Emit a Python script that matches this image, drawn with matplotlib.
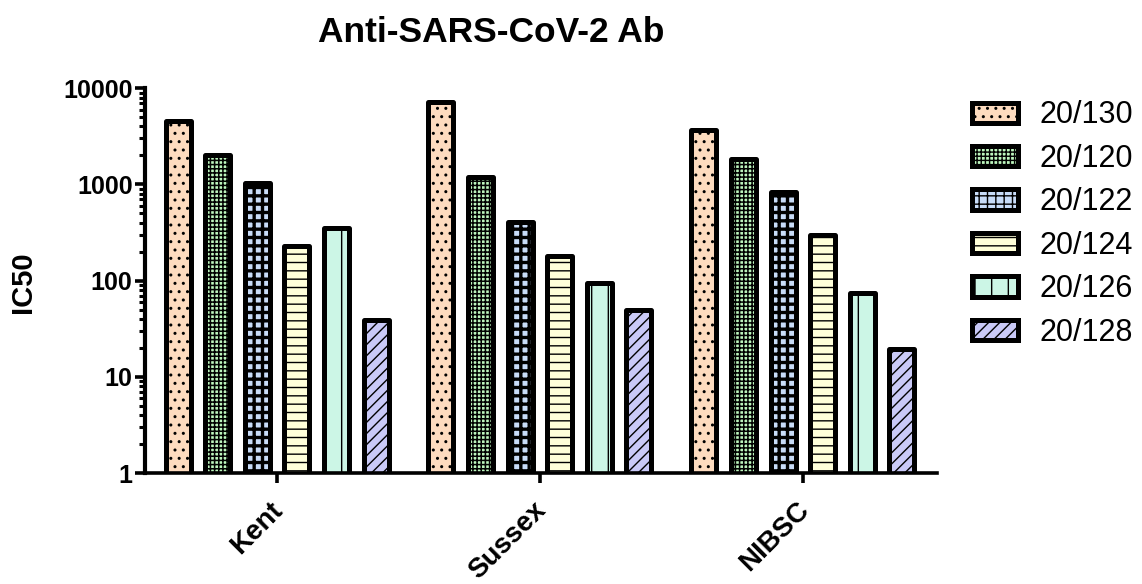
import matplotlib
matplotlib.use('Agg')
import matplotlib.pyplot as plt
from matplotlib.patches import Patch
from matplotlib.ticker import LogLocator, NullFormatter
import numpy as np

plt.rcParams['font.family'] = ['Liberation Sans', 'DejaVu Sans']

# data
groups = ['Kent', 'Sussex', 'NIBSC']
samples = ['20/130', '20/120', '20/122', '20/124', '20/126', '20/128']
ic50 = {
    '20/130': [4600, 7200, 3650],
    '20/120': [2000, 1190, 1830],
    '20/122': [1040, 405, 830],
    '20/124': [230, 180, 297],
    '20/126': [355, 94, 74],
    '20/128': [39, 49, 19.5],
}
yticks = [1, 10, 100, 1000, 10000]
ytick_labels = ['1', '10', '100', '1000', '10000']

colors = ['#FDDBBF', '#BDF5BD', '#C8DCF8', '#FFFFD9', '#CCF6E6', '#C9C9F7']
hatches = ['..', '++++', '++', '--', '|', '///']
hatch_lw = [1.0, 1.1, 2.4, 1.0, 1.0, 1.0]

fig = plt.figure(figsize=(11.42, 5.84), dpi=100)
ax = fig.add_axes([0.127, 0.190, 0.6935, 0.659])

x = np.arange(len(groups))
pitch = 0.1506
width = 0.095
handles = []
for i, s in enumerate(samples):
    with plt.rc_context({'hatch.linewidth': hatch_lw[i]}):
        bars = ax.bar(x + (i - 2.5) * pitch, ic50[s], width, color=colors[i],
                      edgecolor='black', linewidth=3.6, hatch=hatches[i],
                      joinstyle='round', zorder=2)
        h = Patch(facecolor=colors[i], edgecolor='black', linewidth=3.6,
                  hatch=hatches[i], joinstyle='round', label=s)
    for b in bars:
        if hasattr(b, 'set_hatch_linewidth'):
            b.set_hatch_linewidth(hatch_lw[i])
    if hasattr(h, 'set_hatch_linewidth'):
        h.set_hatch_linewidth(hatch_lw[i])
    handles.append(h)

ax.set_yscale('log')
ax.set_ylim(1, 10000)
ax.set_xlim(-0.502, 2.51)
ax.set_yticks(yticks)
ax.set_yticklabels(ytick_labels)
ax.yaxis.set_minor_locator(LogLocator(base=10, subs=np.arange(2, 10), numticks=10))
ax.yaxis.set_minor_formatter(NullFormatter())

# tick marks at group centres, labels on slightly shifted minor ticks
ax.set_xticks(x)
ax.set_xticklabels([])
ax.set_xticks(x - 0.027, minor=True)
ax.set_xticklabels(groups, minor=True, rotation=45, ha='right',
                   rotation_mode='anchor', fontsize=20, fontweight='bold')
for lab in ax.get_yticklabels():
    lab.set_fontsize(18)
    lab.set_fontweight('bold')

for side in ['top', 'right']:
    ax.spines[side].set_visible(False)
ax.spines['left'].set_linewidth(3)
ax.spines['bottom'].set_linewidth(2.6)
ax.spines['left'].set_zorder(3)
ax.spines['bottom'].set_zorder(3)
ax.tick_params(axis='y', which='major', length=7, width=2.6, pad=2)
ax.tick_params(axis='y', which='minor', length=4.5, width=2.2)
ax.tick_params(axis='x', which='major', length=7, width=2.6)
ax.tick_params(axis='x', which='minor', length=0, pad=17.3)

fig.text(0.43, 0.928, 'Anti-SARS-CoV-2 Ab', ha='center', va='baseline',
         fontsize=25.5, fontweight='bold')
fig.text(23 / 1142, 0.517, 'IC50', ha='center', va='center', rotation=90,
         fontsize=21, fontweight='bold')

fig.legend(handles=handles, loc='upper left', bbox_to_anchor=(0.851, 0.828),
           frameon=False, fontsize=22, handlelength=1.5, handleheight=0.65,
           labelspacing=0.44, handletextpad=0.72, borderpad=0, borderaxespad=0)

fig.savefig('out.png', dpi=100)
